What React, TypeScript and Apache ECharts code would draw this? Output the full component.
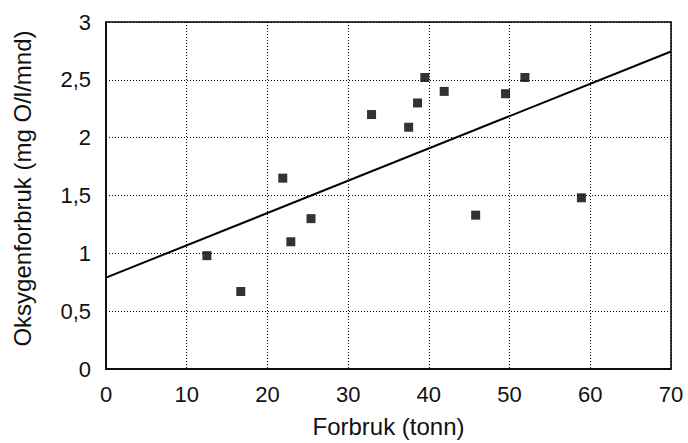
import React, { useEffect, useRef } from "react";
import * as echarts from "echarts";

const forbruk = [12.5, 16.7, 21.9, 22.9, 25.4, 32.9, 37.5, 38.6, 39.5, 41.9, 45.8, 49.5, 51.9, 58.9];
const oksygen = [0.98, 0.67, 1.65, 1.1, 1.3, 2.2, 2.09, 2.3, 2.52, 2.4, 1.33, 2.38, 2.52, 1.48];
const trendX = [0, 70];
const trendY = [0.79, 2.745];
const xTitle = "Forbruk (tonn)";
const yTitle = "Oksygenforbruk (mg O/l/mnd)";

export default function App() {
  const ref = useRef<HTMLDivElement>(null);
  useEffect(() => {
    const chart = echarts.init(ref.current!, null, { renderer: "svg" });
    const font = "Liberation Sans, Arial, sans-serif";
    chart.setOption({
      animation: false,
      backgroundColor: "#fff",
      grid: {
        left: 106,
        right: 17,
        top: 22,
        bottom: 71,
        show: true,
        borderColor: "#000",
        borderWidth: 1.5,
      },
      xAxis: {
        type: "value",
        min: 0,
        max: 70,
        interval: 10,
        name: xTitle,
        nameLocation: "middle",
        nameGap: 45,
        nameTextStyle: { fontFamily: font, fontSize: 24, color: "#111" },
        axisLine: { show: true, lineStyle: { color: "#000", width: 1.5 } },
        axisTick: { show: false },
        axisLabel: { fontFamily: font, fontSize: 22, color: "#111", margin: 14 },
        splitLine: { show: true, lineStyle: { color: "#000", type: [1, 2], width: 1 } },
      },
      yAxis: {
        type: "value",
        min: 0,
        max: 3,
        interval: 0.5,
        name: yTitle,
        nameLocation: "middle",
        nameGap: 72,
        nameTextStyle: { fontFamily: font, fontSize: 24, color: "#111", padding: [0, 0, 0, 14] },
        axisLine: { show: true, lineStyle: { color: "#000", width: 1.5 } },
        axisTick: { show: false },
        axisLabel: {
          fontFamily: font,
          fontSize: 22,
          color: "#111",
          margin: 15,
          formatter: (v: number) => String(v).replace(".", ","),
        },
        splitLine: { show: true, lineStyle: { color: "#000", type: [1, 2], width: 1 } },
      },
      series: [
        {
          type: "line",
          data: trendX.map((x, i) => [x, trendY[i]]),
          showSymbol: false,
          lineStyle: { color: "#000", width: 2 },
          silent: true,
        },
        {
          type: "scatter",
          data: forbruk.map((x, i) => [x, oksygen[i]]),
          symbol: "rect",
          symbolSize: 9,
          itemStyle: { color: "#000" },
        },
      ],
    });
    return () => chart.dispose();
  }, []);
  return <div ref={ref} style={{ width: 688, height: 443, position: "absolute", left: 0, top: 0 }} />;
}
